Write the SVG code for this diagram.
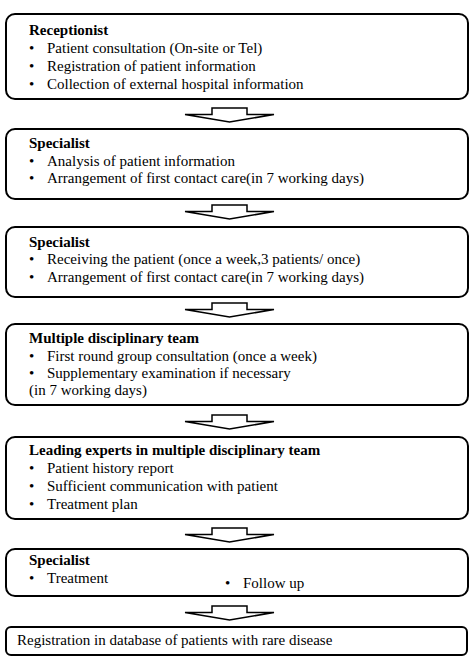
<svg xmlns="http://www.w3.org/2000/svg" width="474" height="668" viewBox="0 0 474 668">
<defs>
<style>
.box{fill:#fff;stroke:#000;stroke-width:2}
.arr{fill:#fff;stroke:#000;stroke-width:1.5;stroke-linejoin:miter}
text{font-family:"Liberation Serif","Times New Roman",serif;font-size:15px;fill:#000}
.t{font-weight:bold}
</style>
<polygon id="arrow" class="arr" points="212,0 247,0 247,6.5 274,6.5 229.5,14 185,6.5 212,6.5"/>
</defs>
<rect width="474" height="668" fill="#fff"/>
<g id="connectors">
<use href="#arrow" y="108"/>
<use href="#arrow" y="205"/>
<use href="#arrow" y="303"/>
<use href="#arrow" y="415"/>
<use href="#arrow" y="528"/>
<use href="#arrow" y="606"/>
</g>
<g id="n1">
<rect class="box" x="6" y="14" width="462" height="85" rx="9"/>
<text class="t" x="29" y="35">Receptionist</text>
<text x="29" y="53">•</text><text x="47" y="53">Patient consultation (On-site or Tel)</text>
<text x="29" y="71">•</text><text x="47" y="71">Registration of patient information</text>
<text x="29" y="89">•</text><text x="47" y="89">Collection of external hospital information</text>
</g>
<g id="n2">
<rect class="box" x="6" y="129" width="462" height="70" rx="9"/>
<text class="t" x="29" y="148">Specialist</text>
<text x="29" y="165.5">•</text><text x="47" y="165.5">Analysis of patient information</text>
<text x="29" y="183">•</text><text x="47" y="183">Arrangement of first contact care(in 7 working days)</text>
</g>
<g id="n3">
<rect class="box" x="6" y="227" width="462" height="70" rx="9"/>
<text class="t" x="29" y="246.5">Specialist</text>
<text x="29" y="264">•</text><text x="47" y="264">Receiving the patient (once a week,3 patients/ once)</text>
<text x="29" y="281.5">•</text><text x="47" y="281.5">Arrangement of first contact care(in 7 working days)</text>
</g>
<g id="n4">
<rect class="box" x="6" y="324" width="462" height="81" rx="9"/>
<text class="t" x="29" y="343">Multiple disciplinary team</text>
<text x="29" y="360.5">•</text><text x="47" y="360.5">First round group consultation (once a week)</text>
<text x="29" y="378">•</text><text x="47" y="378">Supplementary examination if necessary</text>
<text x="29" y="395">(in 7 working days)</text>
</g>
<g id="n5">
<rect class="box" x="6" y="437" width="462" height="82" rx="9"/>
<text class="t" x="29" y="455">Leading experts in multiple disciplinary team</text>
<text x="29" y="473">•</text><text x="47" y="473">Patient history report</text>
<text x="29" y="491">•</text><text x="47" y="491">Sufficient communication with patient</text>
<text x="29" y="509">•</text><text x="47" y="509">Treatment plan</text>
</g>
<g id="n6">
<rect class="box" x="6" y="549" width="462" height="47" rx="9"/>
<text class="t" x="29" y="565">Specialist</text>
<text x="29" y="583">•</text><text x="47" y="583">Treatment</text>
<text x="225" y="588">•</text><text x="243" y="588">Follow up</text>
</g>
<g id="n7">
<rect class="box" x="6" y="627" width="461" height="28" rx="5"/>
<text x="17" y="645">Registration in database of patients with rare disease</text>
</g>
</svg>
